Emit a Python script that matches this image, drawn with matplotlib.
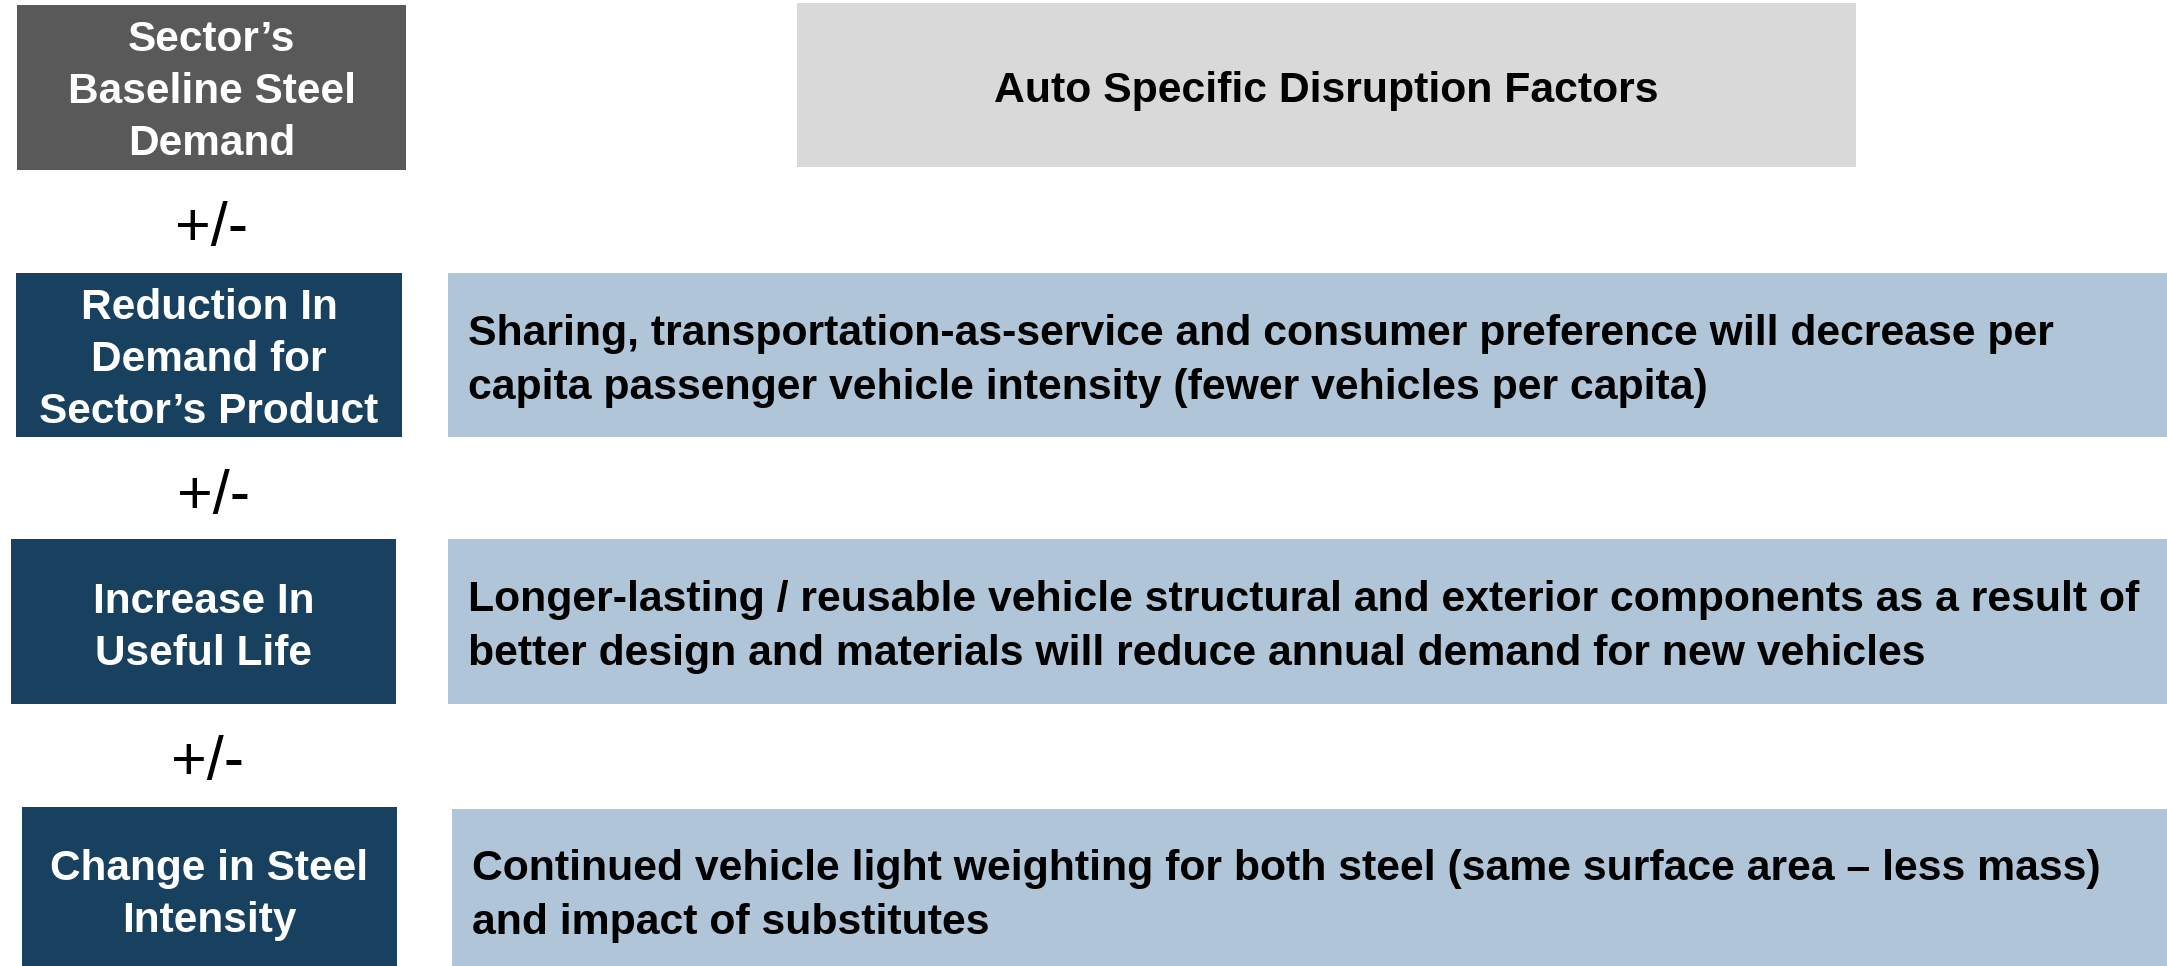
import matplotlib
matplotlib.use("Agg")
import matplotlib.pyplot as plt
from matplotlib.patches import Rectangle
from matplotlib.font_manager import FontProperties

# texto das caixas da esquerda (fatores) e descrições da direita
factors = ["Sector\u2019s\nBaseline Steel\nDemand",
           "Reduction In\nDemand for\nSector\u2019s Product",
           "Increase In\nUseful Life",
           "Change in Steel\nIntensity"]
title = "Auto Specific Disruption Factors"
descriptions = ["Sharing, transportation-as-service and consumer preference will decrease per\ncapita passenger vehicle intensity (fewer vehicles per capita)",
                "Longer-lasting / reusable vehicle structural and exterior components as a result of\nbetter design and materials will reduce annual demand for new vehicles",
                "Continued vehicle light weighting for both steel (same surface area \u2013 less mass)\nand impact of substitutes"]
operator = "+/-"

# layout em pixels (x0, x1, y0, y1)
left_boxes = [(17, 406, 5, 170), (16, 402, 273, 437), (11, 396, 539, 704), (22, 397, 807, 970)]
right_boxes = [(448, 2170, 273, 437), (448, 2170, 539, 704), (452, 2170, 809, 970)]
title_box = (797, 1856, 3, 167)
left_text_y = [92, 360, 628, 895]
desc_text_y = [361, 627, 896]
op_pos = [(212, 229), (214, 497), (208, 764)]

gray = "#595959"
navy = "#17415F"
light_blue = "#B0C5D7"
light_gray = "#D9D9D9"
bold = FontProperties(family="Liberation Sans", weight="bold")

fig = plt.figure(figsize=(21.67, 9.66), dpi=100)
ax = fig.add_axes([0, 0, 1, 1])
ax.set_xlim(0, 2167)
ax.set_ylim(966, 0)
ax.axis("off")

for i, (x0, x1, y0, y1) in enumerate(left_boxes):
    ax.add_patch(Rectangle((x0, y0), x1 - x0, y1 - y0, color=gray if i == 0 else navy, lw=0))
    ax.text((x0 + x1) / 2, left_text_y[i], factors[i], color="white",
            fontproperties=bold, size=30.5, ha="center", va="center",
            multialignment="center", linespacing=1.39)

for i, (x0, x1, y0, y1) in enumerate(right_boxes):
    ax.add_patch(Rectangle((x0, y0), x1 - x0, y1 - y0, color=light_blue, lw=0))
    ax.text(x0 + 20, desc_text_y[i], descriptions[i], color="black",
            fontproperties=bold, size=30.8, ha="left", va="center", linespacing=1.42)

x0, x1, y0, y1 = title_box
ax.add_patch(Rectangle((x0, y0), x1 - x0, y1 - y0, color=light_gray, lw=0))
ax.text((x0 + x1) / 2, 102, title, color="black", fontproperties=bold, size=30.8,
        ha="center", va="baseline")

for x, y in op_pos:
    ax.text(x, y, operator, color="black", fontsize=44, family="Liberation Sans",
            ha="center", va="center")

fig.savefig("out.png", dpi=100)
